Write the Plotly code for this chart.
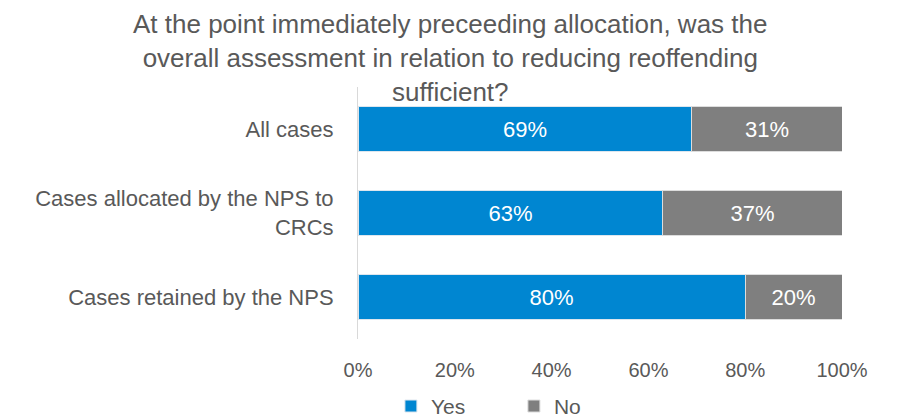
import plotly.graph_objects as go

# Data
categories = [
    "All cases",
    "Cases allocated by the NPS to<br>CRCs",
    "Cases retained by the NPS",
]
yes_values = [69, 63, 80]
no_values = [31, 37, 20]
x_ticks = [0, 20, 40, 60, 80, 100]

TITLE = ("At the point immediately preceeding allocation, was the<br>"
         "overall assessment in relation to reducing reoffending<br>"
         "sufficient?")

COLORS = {"yes": "#0086D1", "no": "#7F7F7F", "text": "#595959"}
FONT = "Liberation Sans, Arial, sans-serif"

fig = go.Figure()

fig.add_trace(go.Bar(
    y=categories,
    x=yes_values,
    name="Yes",
    orientation="h",
    marker=dict(color=COLORS["yes"], line=dict(color="#DDE6EE", width=1)),
    text=[f"{v}%" for v in yes_values],
    textposition="inside",
    insidetextanchor="middle",
    textfont=dict(color="white", size=22, family=FONT),
))

fig.add_trace(go.Bar(
    y=categories,
    x=no_values,
    name="No",
    orientation="h",
    marker=dict(color=COLORS["no"], line=dict(color="#DDDDDD", width=1)),
    text=[f"{v}%" for v in no_values],
    textposition="inside",
    insidetextanchor="middle",
    textfont=dict(color="white", size=22, family=FONT),
))

# title drawn as an annotation so the three lines can overlap the plot top
fig.add_annotation(
    text=TITLE,
    xref="paper", yref="paper",
    x=0.19, y=1.116,
    xanchor="center", yanchor="middle",
    showarrow=False,
    align="center",
    font=dict(size=26, color=COLORS["text"], family=FONT),
)

# page body adds an 8px margin, so the figure is sized to fit the window
fig.update_layout(
    width=894,
    height=409,
    barmode="stack",
    bargap=0.476,
    margin=dict(l=350, r=60, t=79, b=78),
    plot_bgcolor="white",
    paper_bgcolor="white",
    font=dict(family=FONT, color=COLORS["text"], size=20),
    uniformtext=dict(mode="show", minsize=22),
    legend=dict(
        orientation="h",
        x=0.068,
        xanchor="left",
        yref="container",
        y=0.026,
        yanchor="middle",
        font=dict(size=21, color=COLORS["text"]),
        itemwidth=30,
        entrywidth=78,
        traceorder="normal",
    ),
)

fig.update_xaxes(
    range=[0, 100],
    tickvals=x_ticks,
    ticktext=[f"{v}%" for v in x_ticks],
    showgrid=False,
    zeroline=False,
    showline=False,
    automargin=False,
    tickfont=dict(size=20, color=COLORS["text"]),
    ticklabelstandoff=17,
)

fig.update_yaxes(
    autorange="reversed",
    showline=True,
    linecolor="#D9D9D9",
    linewidth=1,
    showgrid=False,
    automargin=False,
    tickfont=dict(size=22, color=COLORS["text"]),
    ticklabelstandoff=19,
)

fig.write_html("out.html")
